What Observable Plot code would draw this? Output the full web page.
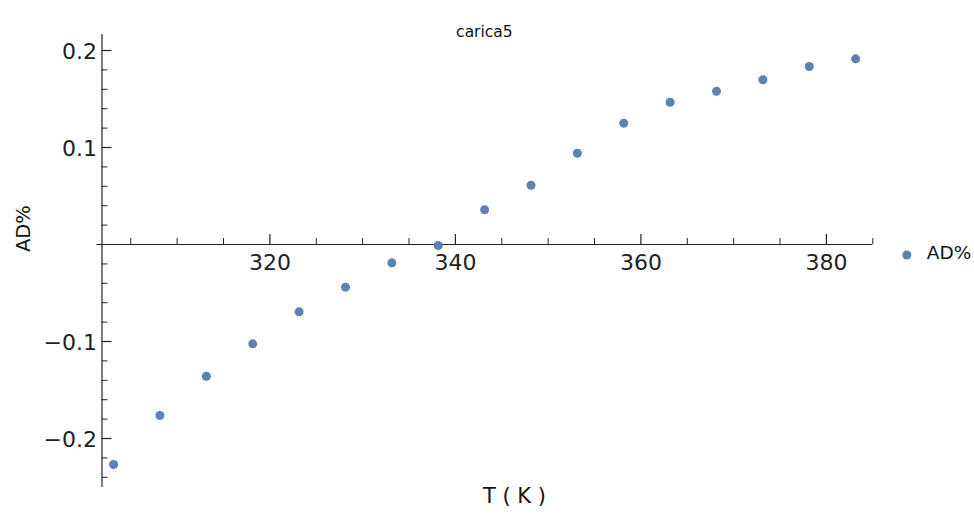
<!DOCTYPE html>
<html>
<head>
<meta charset="utf-8">
<script src="https://cdn.jsdelivr.net/npm/d3@7"></script>
<script src="https://cdn.jsdelivr.net/npm/@observablehq/plot@0.6"></script>
<style>
  html, body { margin: 0; padding: 0; background: #fff; }
</style>
</head>
<body>
<div id="chart"></div>
<script>
// Data
const temperatures = [303.15, 308.15, 313.15, 318.15, 323.15, 328.15, 333.15, 338.15, 343.15,
                      348.15, 353.15, 358.15, 363.15, 368.15, 373.15, 378.15, 383.15];
const adPercent = [-0.2268, -0.1763, -0.1358, -0.1024, -0.0694, -0.0440, -0.0189, -0.0010, 0.0358,
                   0.0611, 0.0941, 0.1251, 0.1467, 0.1580, 0.1698, 0.1835, 0.1914];
const xMajorTicks = [320, 340, 360, 380];
const xMinorTicks = [305, 310, 315, 325, 330, 335, 345, 350, 355, 365, 370, 375, 385];
const yMajorTicks = [-0.2, -0.1, 0.1, 0.2];
const yMinorTicks = [-0.24, -0.22, -0.18, -0.16, -0.14, -0.12, -0.08, -0.06, -0.04, -0.02,
                     0.02, 0.04, 0.06, 0.08, 0.12, 0.14, 0.16, 0.18];
const yTickLabels = ["\u22120.2", "\u22120.1", "0.1", "0.2"];
const xTickLabels = ["320", "340", "360", "380"];
const chartTitle = "carica5";
const xLabel = "T ( K )";
const yLabel = "AD%";
const seriesName = "AD%";
const xDomain = [301.9, 385.0];
const yDomain = [-0.2505, 0.2165];

const data = temperatures.map((t, i) => ({T: t, AD: adPercent[i]}));
const axisColor = "#222";
const dotColor = "#5E81B5";
const xmin = xDomain[0];

const chart = Plot.plot({
  width: 974,
  height: 518,
  marginLeft: 101.5,
  marginRight: 101.7,
  marginTop: 34,
  marginBottom: 31,
  style: {fontFamily: "DejaVu Sans", background: "#fff", color: axisColor},
  x: {domain: xDomain, axis: null},
  y: {domain: yDomain, axis: null},
  marks: [
    // axes lines
    Plot.ruleX([xmin], {stroke: axisColor, strokeWidth: 1.2}),
    Plot.ruleY([0], {x1: xDomain[0], x2: xDomain[1], insetLeft: -5, stroke: axisColor, strokeWidth: 1.2}),
    // x ticks (upwards from the y=0 axis)
    Plot.ruleX(xMajorTicks, {x: d => d, y1: 0, y2: 0, insetTop: -10, insetBottom: 0, stroke: axisColor, strokeWidth: 1.2}),
    Plot.ruleX(xMinorTicks, {x: d => d, y1: 0, y2: 0, insetTop: -6, insetBottom: 0, stroke: axisColor, strokeWidth: 1}),
    // y ticks (rightwards from the y axis)
    Plot.ruleY(yMajorTicks, {y: d => d, x1: xmin, x2: xmin, insetLeft: 0, insetRight: -10, stroke: axisColor, strokeWidth: 1.2}),
    Plot.ruleY(yMinorTicks, {y: d => d, x1: xmin, x2: xmin, insetLeft: 0, insetRight: -6, stroke: axisColor, strokeWidth: 1}),
    // tick labels
    Plot.text(xMajorTicks, {x: d => d, y: 0, text: (d, i) => xTickLabels[i], dy: 18, fontSize: 22, fill: axisColor}),
    Plot.text(yMajorTicks, {x: xmin, y: d => d, text: (d, i) => yTickLabels[i], dx: -5, dy: 1, textAnchor: "end", fontSize: 22, fill: axisColor}),
    // data points
    Plot.dot(data, {x: "T", y: "AD", r: 4.5, fill: dotColor, stroke: "none"}),
    // title
    Plot.text([chartTitle], {frameAnchor: "top", text: d => d, dy: -9, dx: -3, fontSize: 15.5, fill: "#111"}),
    // axis labels
    Plot.text([xLabel], {frameAnchor: "bottom", text: d => d, dy: 15, dx: 27, fontSize: 21, fill: "#111"}),
    Plot.text([yLabel], {frameAnchor: "left", text: d => d, dx: -78, dy: -9, rotate: -90, fontSize: 19.5, fill: "#111"}),
    // legend
    Plot.dot([seriesName], {frameAnchor: "right", dx: 34, dy: -6, r: 4.5, fill: dotColor, stroke: "none"}),
    Plot.text([seriesName], {frameAnchor: "right", text: d => d, dx: 54, dy: -8, textAnchor: "start", fontSize: 18.5, fill: "#111"})
  ]
});
document.getElementById("chart").appendChild(chart);
</script>
</body>
</html>
